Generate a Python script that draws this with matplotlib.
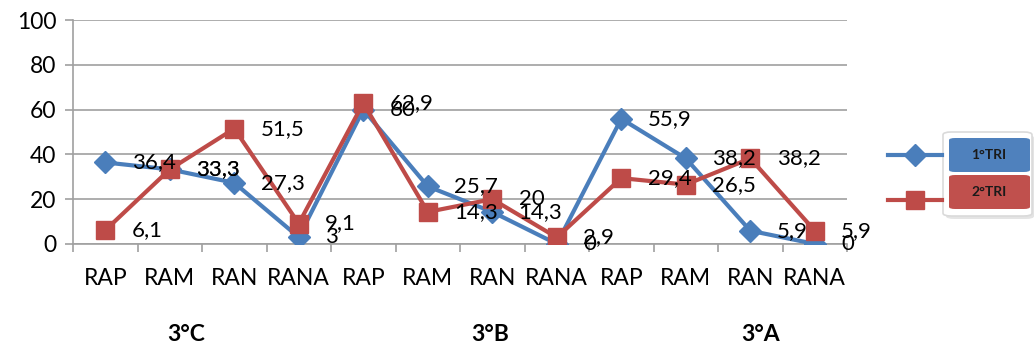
import matplotlib.pyplot as plt
from matplotlib.lines import Line2D
from matplotlib.patches import FancyBboxPatch
from matplotlib.transforms import blended_transform_factory

plt.rcParams['font.family'] = ['Lato', 'DejaVu Sans']

categories = ['RAP', 'RAM', 'RAN', 'RANA'] * 3
groups = ['3°C', '3°B', '3°A']
group_pos = [1.26, 5.97, 10.16]
tri1 = [36.4, 33.3, 27.3, 3, 60, 25.7, 14.3, 0, 55.9, 38.2, 5.9, 0]
tri2 = [6.1, 33.3, 51.5, 9.1, 62.9, 14.3, 20, 2.9, 29.4, 26.5, 38.2, 5.9]
series_names = ['1°TRI', '2°TRI']

blue = '#4A7EBB'
red = '#BE4B48'

fig = plt.figure(figsize=(10.34, 3.52), dpi=100)
ax = fig.add_axes([0.0706, 0.307, 0.7486, 0.636])
x = list(range(len(categories)))

ax.plot(x, tri1, color=blue, lw=3, marker='D', ms=11, zorder=3)
ax.plot(x, tri2, color=red, lw=3, marker='s', ms=13, zorder=4)

def fmt(v):
    return ('%g' % v).replace('.', ',')

for ys in (tri1, tri2):
    for xi, yi in zip(x, ys):
        ax.annotate(fmt(yi), (xi, yi), xytext=(19, 0), textcoords='offset points',
                    ha='left', va='center', fontsize=16, zorder=5)

ax.set_xlim(-0.5, 11.5)
ax.set_ylim(0, 100)
ax.set_yticks(range(0, 101, 20))
ax.yaxis.grid(True, color='#A0A0A0', lw=1.2)
ax.set_axisbelow(True)

ax.set_xticks([i - 0.5 for i in range(13)])
ax.set_xticklabels([])
ax.set_xticks(x, minor=True)
ax.set_xticklabels(categories, minor=True)
ax.tick_params(axis='x', which='major', direction='out', length=6, width=1.2, color='#A0A0A0')
ax.tick_params(axis='x', which='minor', length=0, pad=17, labelsize=16.5)
ax.tick_params(axis='y', direction='out', length=6, width=1.2, color='#A0A0A0', labelsize=16.5, pad=6)

for side in ['top', 'right']:
    ax.spines[side].set_visible(False)
for side in ['left', 'bottom']:
    ax.spines[side].set_color('#A0A0A0')
    ax.spines[side].set_linewidth(1.2)

trans = blended_transform_factory(ax.transData, ax.transAxes)
for g, gx in zip(groups, group_pos):
    ax.text(gx, -0.405, g, transform=trans, ha='center', va='center',
            fontsize=16.5, fontweight='bold')

# legend: line samples plus coloured label boxes
W, H = fig.get_size_inches() * fig.dpi
def fx(px):
    return px / W
def fy(py):
    return 1 - py / H

# soft shadow and white frame behind the label boxes
fig.add_artist(FancyBboxPatch((fx(946), fy(219)), fx(88), 84 / H,
                              boxstyle='round,pad=0,rounding_size=0.008',
                              transform=fig.transFigure, facecolor='#E4E4E4',
                              edgecolor='none'))
fig.add_artist(FancyBboxPatch((fx(943), fy(216)), fx(89), 84 / H,
                              boxstyle='round,pad=0,rounding_size=0.008',
                              transform=fig.transFigure, facecolor='white',
                              edgecolor='#DADADA', lw=1.2))
for i, (name, c, m, ms) in enumerate([(series_names[0], blue, 'D', 11),
                                        (series_names[1], red, 's', 13)]):
    ly = 155 + 45 * i
    fig.add_artist(Line2D([fx(888), fx(942)], [fy(ly), fy(ly)], color=c, lw=3,
                          transform=fig.transFigure))
    fig.add_artist(Line2D([fx(915)], [fy(ly)], color=c, marker=m, ms=ms,
                          transform=fig.transFigure))
    top = 138 + 37 * i
    box_c = '#4F81BD' if i == 0 else '#C0504D'
    fig.add_artist(FancyBboxPatch((fx(949), fy(top + 34)), fx(81), 34 / H,
                                  boxstyle='round,pad=0,rounding_size=0.006',
                                  transform=fig.transFigure, facecolor=box_c,
                                  edgecolor='none'))
    fig.text(fx(989), fy(top + 17), name, ha='center', va='center', fontsize=10,
             fontweight='bold', color='#1A1A1A')

fig.savefig('out.png', dpi=100)
